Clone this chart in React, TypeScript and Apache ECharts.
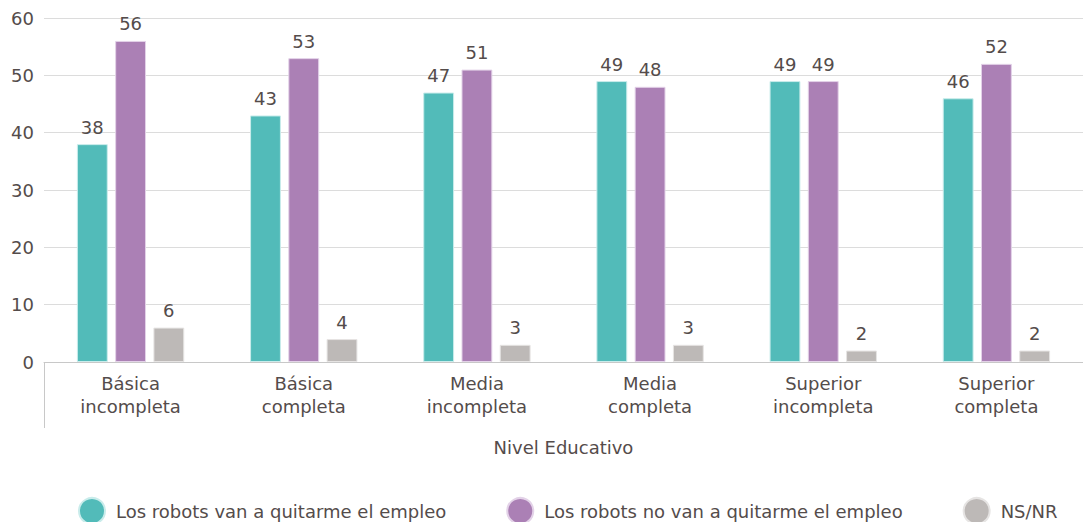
import React, { useEffect, useRef } from "react";
import * as echarts from "echarts";

const categories = [
  "Básica\nincompleta",
  "Básica\ncompleta",
  "Media\nincompleta",
  "Media\ncompleta",
  "Superior\nincompleta",
  "Superior\ncompleta",
];
const seriesNames = [
  "Los robots van a quitarme el empleo",
  "Los robots no van a quitarme el empleo",
  "NS/NR",
];
const vanQuitar = [38, 43, 47, 49, 49, 46];
const noVanQuitar = [56, 53, 51, 48, 49, 52];
const nsnr = [6, 4, 3, 3, 2, 2];
const colors = ["#52BBB9", "#AB80B5", "#BDB9B7"];
const borderColors = ["#C9ECEB", "#E3D2E8", "#E6E4E3"];

const FONT = "DejaVu Sans";
const TEXT = "#544C4B";

export default function App() {
  const ref = useRef<HTMLDivElement>(null);
  useEffect(() => {
    if (!ref.current) return;
    const chart = echarts.init(ref.current, undefined, { renderer: "svg" });
    const data = [vanQuitar, noVanQuitar, nsnr];
    chart.setOption({
      animation: false,
      textStyle: { fontFamily: FONT, color: TEXT },
      grid: { left: 44, right: -8, top: 18, bottom: 160, containLabel: false },
      legend: {
        top: 492,
        left: 73,
        icon: "circle",
        itemWidth: 26,
        itemHeight: 26,
        itemGap: 60,
        textStyle: { fontFamily: FONT, color: TEXT, fontSize: 18, padding: [0, 0, 0, 6] },
        data: seriesNames,
      },
      xAxis: {
        type: "category",
        data: categories,
        name: "Nivel Educativo",
        nameLocation: "middle",
        nameGap: 76,
        nameTextStyle: { fontFamily: FONT, color: TEXT, fontSize: 18 },
        axisLine: { lineStyle: { color: "#C8C8C8" } },
        axisTick: { show: false },
        axisLabel: {
          fontFamily: FONT,
          color: TEXT,
          fontSize: 18,
          lineHeight: 23,
          margin: 10,
          interval: 0,
        },
      },
      yAxis: {
        type: "value",
        min: 0,
        max: 60,
        interval: 10,
        axisLine: { show: false },
        axisTick: { show: false },
        axisLabel: { fontFamily: FONT, color: TEXT, fontSize: 18, margin: 10 },
        splitLine: { lineStyle: { color: "#DCDCDC" } },
      },
      graphic: [
        {
          type: "line",
          shape: { x1: 44.5, y1: 362, x2: 44.5, y2: 428 },
          style: { stroke: "#C8C8C8", lineWidth: 1 },
          silent: true,
        },
      ],
      series: data.map((d, i) => ({
        name: seriesNames[i],
        type: "bar",
        data: d,
        barGap: "24%",
        barCategoryGap: "38%",
        itemStyle: { color: colors[i], borderColor: borderColors[i], borderWidth: 1 },
        label: {
          show: true,
          position: "top",
          distance: 8,
          fontFamily: FONT,
          color: TEXT,
          fontSize: 18,
        },
      })),
    });
    return () => chart.dispose();
  }, []);
  return (
    <div
      ref={ref}
      style={{ position: "fixed", left: 0, top: 0, width: 1083, height: 522, background: "#fff" }}
    />
  );
}
